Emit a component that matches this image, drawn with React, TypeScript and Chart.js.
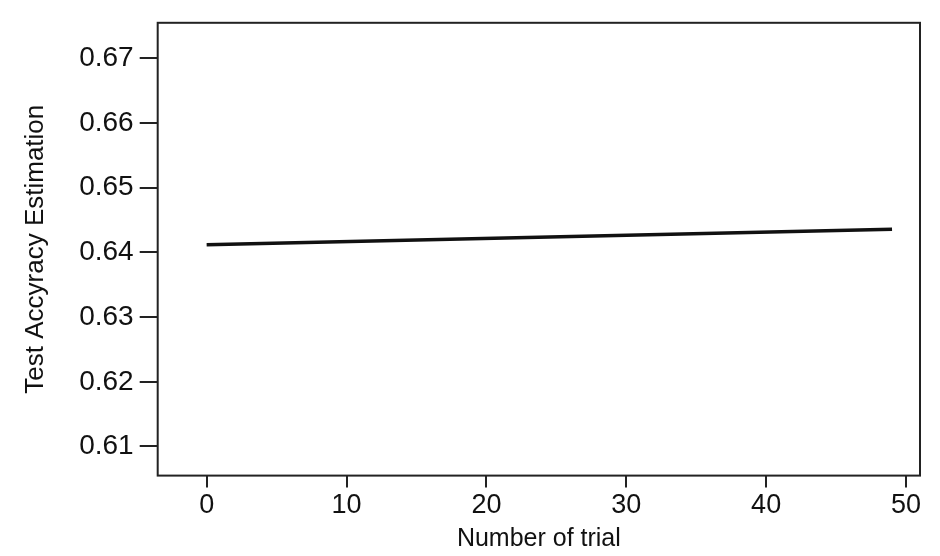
import React, { useEffect, useRef } from "react";
import { Chart, registerables } from "chart.js";

Chart.register(...registerables);

const trials = [0, 49];
const accuracy = [0.6412, 0.6436];
const yTicks = [0.61, 0.62, 0.63, 0.64, 0.65, 0.66, 0.67];
const xTicks = [0, 10, 20, 30, 40, 50];

const boxPlugin = {
  id: "boxBorder",
  afterDraw(chart: any) {
    const { ctx, chartArea } = chart;
    ctx.save();
    ctx.strokeStyle = "#222";
    ctx.lineWidth = 2;
    ctx.strokeRect(chartArea.left, chartArea.top, chartArea.right - chartArea.left, chartArea.bottom - chartArea.top);
    ctx.restore();
  },
};

export default function App() {
  const ref = useRef<HTMLCanvasElement>(null);
  useEffect(() => {
    document.body.style.margin = "0";
    const chart = new Chart(ref.current!, {
      type: "line",
      data: {
        datasets: [
          {
            data: trials.map((t, i) => ({ x: t, y: accuracy[i] })),
            borderColor: "#111",
            borderWidth: 3.5,
            pointRadius: 0,
            tension: 0,
          },
        ],
      },
      options: {
        animation: false,
        responsive: false,
        layout: { padding: { left: 16, top: 18, right: 20, bottom: 0 } },
        plugins: { legend: { display: false }, tooltip: { enabled: false } },
        scales: {
          x: {
            type: "linear",
            min: -3.5,
            max: 51,
            afterBuildTicks: (s: any) => {
              s.ticks = xTicks.map((v) => ({ value: v }));
            },
            grid: { drawOnChartArea: false, tickLength: 12, color: "#222", lineWidth: 2 },
            border: { display: false },
            ticks: { color: "#111", font: { family: "Liberation Sans", size: 27 }, padding: 2, maxRotation: 0 },
            title: { display: true, text: "Number of trial", color: "#111", font: { family: "Liberation Sans", size: 25 }, padding: { top: 0, bottom: 2 } },
          },
          y: {
            min: 0.6055,
            max: 0.6755,
            afterBuildTicks: (s: any) => {
              s.ticks = yTicks.map((v) => ({ value: v }));
            },
            grid: { drawOnChartArea: false, tickLength: 18, color: "#222", lineWidth: 2 },
            border: { display: false },
            ticks: {
              color: "#111",
              font: { family: "Liberation Sans", size: 28 },
              padding: 6,
              callback: (v: any) => Number(v).toFixed(2),
            },
            title: { display: true, text: "Test Accyracy Estimation", color: "#111", font: { family: "Liberation Sans", size: 26 }, padding: { bottom: 22 } },
          },
        },
      },
      plugins: [boxPlugin],
    });
    return () => chart.destroy();
  }, []);
  return (
    <div style={{ width: 940, height: 556, background: "#fff" }}>
      <canvas ref={ref} width={940} height={556} />
    </div>
  );
}
